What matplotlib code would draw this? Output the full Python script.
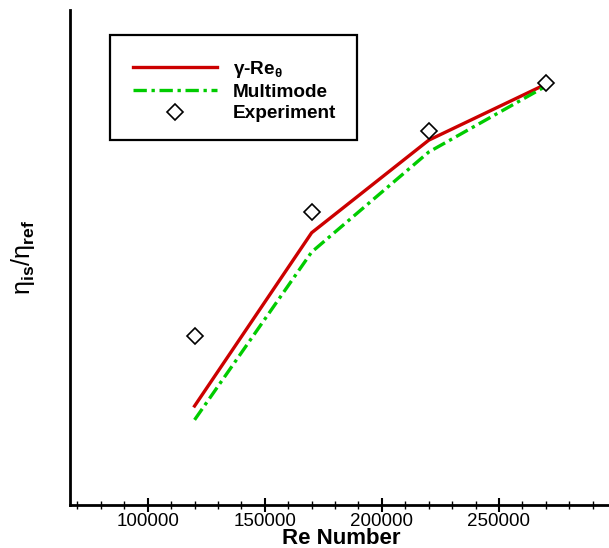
import matplotlib
matplotlib.use("Agg")
import matplotlib.pyplot as plt
from matplotlib.ticker import MultipleLocator
from matplotlib.patches import Rectangle

plt.rcParams['font.family'] = ['Liberation Sans', 'DejaVu Sans']
plt.rcParams['mathtext.fontset'] = 'custom'
plt.rcParams['mathtext.rm'] = 'Liberation Sans'
plt.rcParams['mathtext.bf'] = 'Liberation Sans:bold'
plt.rcParams['mathtext.it'] = 'Liberation Sans:italic'

re_numbers = [120000, 170000, 220000, 270000]
gamma_re = [0.200, 0.550, 0.737, 0.850]
multimode = [0.172, 0.511, 0.713, 0.846]
experiment = [0.341, 0.592, 0.756, 0.852]
xticks = [100000, 150000, 200000, 250000]

W, H = 609, 548
fig = plt.figure(figsize=(W/100, H/100), dpi=100)
ax = fig.add_axes([70/W, 43/H, 1 - 70/W, (505 - 10)/H])

ax.plot(re_numbers, gamma_re, color='#cc0000', lw=2.4, label=r'γ-Re$_{\mathbf{\theta}}$')
ax.plot(re_numbers, multimode, color='#00cc00', lw=2.4, dashes=(4, 1.4, 1, 1.4),
        label='Multimode')
ax.plot(re_numbers, experiment, ls='none', marker='D', ms=8, mfc='white',
        mec='black', mew=1.2, label='Experiment')

ax.set_xlim(66800, 297000)
ax.set_ylim(0, 1)
ax.set_xticks(xticks)
ax.set_xticklabels([str(v) for v in xticks])
ax.xaxis.set_minor_locator(MultipleLocator(10000))
ax.tick_params(axis='x', which='major', direction='inout', length=10, width=1.5,
               labelsize=13.5, pad=1)
ax.tick_params(axis='x', which='minor', direction='inout', length=6, width=1)
ax.set_yticks([])
for s in ['top', 'right']:
    ax.spines[s].set_visible(False)
for s in ['left', 'bottom']:
    ax.spines[s].set_linewidth(2)

fig.text(341/W, 1 - 544/H, 'Re Number', fontsize=16, fontweight='bold',
         ha='center', va='baseline')
ax.set_ylabel(r'η$_{\mathbf{is}}$/η$_{\mathbf{ref}}$', fontsize=18, labelpad=24)

# legend frame
fig.patches.append(Rectangle((110/W, 1 - 140/H), (357 - 110)/W, (140 - 35)/H,
                             transform=fig.transFigure, fill=False,
                             edgecolor='black', lw=1.6))
leg = ax.legend(loc='upper left', bbox_to_anchor=(133/W, 1 - 59/H),
                bbox_transform=fig.transFigure, frameon=False,
                handlelength=4.4, handletextpad=0.85, borderpad=0,
                labelspacing=0.2, borderaxespad=0,
                prop={'weight': 'bold', 'size': 13.7})

fig.savefig('out.png', dpi=100)
